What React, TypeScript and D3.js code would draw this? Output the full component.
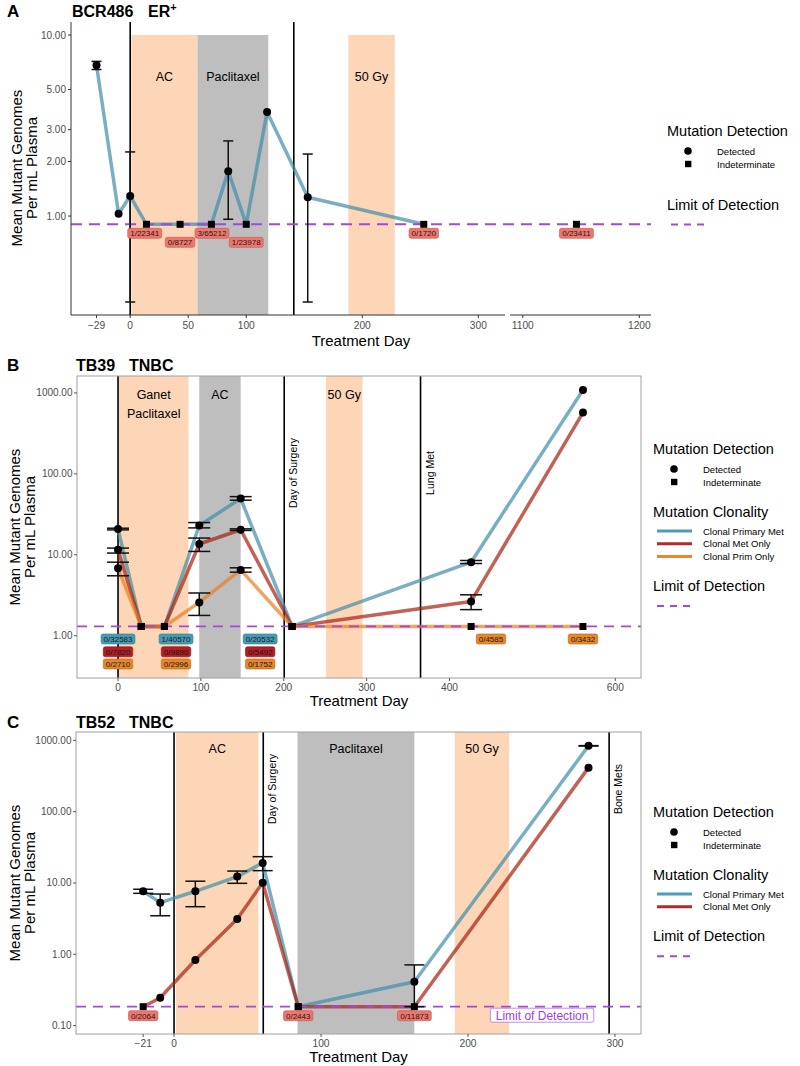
import React from "react";
import * as d3 from "d3";

const FONT = "'Liberation Sans', Arial, Helvetica, sans-serif";

type Pt = { day: number; v: number; lo?: number; hi?: number; det: boolean };
type Phase = { start: number; end: number; label: string[]; kind: "peach" | "grey" };
type Lab = { day: number; row: number; text: string; kind: string };

const PEACH = "#FCD6B6";
const GREY = "#BEBEBE";
const LOD_COLOR = "#A347DF";
const LINE_TEAL = "#3E8DA8";
const LINE_RED = "#A82010";
const LINE_ORANGE = "#E97C1F";
const LEG_TEAL = "#4E9CB5";
const LEG_RED = "#B22A2A";
const LEG_ORANGE = "#E8892B";
const LABEL_FILL: Record<string, [string, string]> = {
  salmon: ["#EE776D", "#C8544B"],
  teal: ["#469BB3", "#2F7F96"],
  red: ["#B01E26", "#8A1218"],
  orange: ["#E8862A", "#B8651A"],
};

// ---------------- Panel A : BCR486 ER+ ----------------
const A_LOD = 0.9;
const A_X_TICKS = [-29, 0, 50, 100, 200, 300];
const A_X_TICKS_LATE = [1100, 1200];
const A_Y_TICKS = [1, 2, 3, 5, 10];
const A_SERIES: Pt[] = [
  { day: -29, v: 6.8, lo: 6.45, hi: 7.15, det: true },
  { day: -10, v: 1.03, det: true },
  { day: 0, v: 1.29, lo: 0.335, hi: 2.26, det: true },
  { day: 14, v: A_LOD, det: false },
  { day: 43, v: A_LOD, det: false },
  { day: 70, v: A_LOD, det: false },
  { day: 84.5, v: 1.77, lo: 0.96, hi: 2.6, det: true },
  { day: 100, v: A_LOD, det: false },
  { day: 118, v: 3.76, det: true },
  { day: 153, v: 1.27, lo: 0.335, hi: 2.2, det: true },
  { day: 253, v: A_LOD, det: false },
];
const A_LATE: Pt[] = [{ day: 1146, v: A_LOD, det: false }];
const A_PHASES: Phase[] = [
  { start: 1, end: 58, label: ["AC"], kind: "peach" },
  { start: 58, end: 119, label: ["Paclitaxel"], kind: "grey" },
  { start: 188, end: 228, label: ["50 Gy"], kind: "peach" },
];
const A_EVENTS = [0, 141];
const A_LABELS: Lab[] = [
  { day: 12.5, row: 0, text: "1/22341", kind: "salmon" },
  { day: 43, row: 1, text: "0/8727", kind: "salmon" },
  { day: 70.5, row: 0, text: "3/65212", kind: "salmon" },
  { day: 100, row: 1, text: "1/23978", kind: "salmon" },
  { day: 253, row: 0, text: "0/1720", kind: "salmon" },
  { day: 1146, row: 0, text: "0/23411", kind: "salmon" },
];

// ---------------- Panel B : TB39 TNBC ----------------
const B_LOD = 1.3;
const B_X_TICKS = [0, 100, 200, 300, 400, 600];
const B_Y_TICKS = [1, 10, 100, 1000];
const B_TEAL: Pt[] = [
  { day: 0, v: 20.8, lo: 20.3, hi: 21.3, det: true },
  { day: 28, v: B_LOD, det: false },
  { day: 56, v: B_LOD, det: false },
  { day: 98, v: 23, lo: 21.5, hi: 25, det: true },
  { day: 148, v: 49.5, lo: 47.3, hi: 52.3, det: true },
  { day: 210, v: B_LOD, det: false },
  { day: 426, v: 8.1, lo: 7.8, hi: 8.5, det: true },
  { day: 561, v: 1090, det: true },
];
const B_RED: Pt[] = [
  { day: 0, v: 11.5, lo: 10.5, hi: 12.1, det: true },
  { day: 28, v: B_LOD, det: false },
  { day: 56, v: B_LOD, det: false },
  { day: 98, v: 13.6, lo: 11, hi: 16.1, det: true },
  { day: 148, v: 20.4, lo: 20, hi: 20.9, det: true },
  { day: 210, v: B_LOD, det: false },
  { day: 426, v: 2.65, lo: 2.1, hi: 3.2, det: true },
  { day: 561, v: 573, det: true },
];
const B_ORANGE: Pt[] = [
  { day: 0, v: 6.8, lo: 5.5, hi: 8.1, det: true },
  { day: 28, v: B_LOD, det: false },
  { day: 56, v: B_LOD, det: false },
  { day: 98, v: 2.58, lo: 1.78, hi: 3.37, det: true },
  { day: 148, v: 6.5, lo: 6.1, hi: 6.9, det: true },
  { day: 210, v: B_LOD, det: false },
  { day: 426, v: B_LOD, det: false },
  { day: 561, v: B_LOD, det: false },
];
const B_PHASES: Phase[] = [
  { start: 1, end: 85, label: ["Ganet", "Paclitaxel"], kind: "peach" },
  { start: 98, end: 148, label: ["AC"], kind: "grey" },
  { start: 251, end: 295, label: ["50 Gy"], kind: "peach" },
];
const B_EVENTS = [
  { day: 0, label: "" },
  { day: 200.5, label: "Day of Surgery" },
  { day: 365, label: "Lung Met" },
];
const B_LABELS: Lab[] = [
  { day: 0, row: 0, text: "0/32583", kind: "teal" },
  { day: 0, row: 1, text: "0/7820", kind: "red" },
  { day: 0, row: 2, text: "0/2710", kind: "orange" },
  { day: 70, row: 0, text: "1/40570", kind: "teal" },
  { day: 70, row: 1, text: "0/9890", kind: "red" },
  { day: 70, row: 2, text: "0/2996", kind: "orange" },
  { day: 171.5, row: 0, text: "0/20532", kind: "teal" },
  { day: 171.5, row: 1, text: "0/5492", kind: "red" },
  { day: 171.5, row: 2, text: "0/1752", kind: "orange" },
  { day: 450, row: 0, text: "0/4585", kind: "orange" },
  { day: 561, row: 0, text: "0/3432", kind: "orange" },
];

// ---------------- Panel C : TB52 TNBC ----------------
const C_LOD = 0.184;
const C_X_TICKS = [-21, 0, 100, 200, 300];
const C_Y_TICKS = [0.1, 1, 10, 100, 1000];
const C_TEAL: Pt[] = [
  { day: -21, v: 7.65, lo: 7.16, hi: 8.17, det: true },
  { day: -9.4, v: 5.3, lo: 3.47, hi: 7.0, det: true },
  { day: 14.5, v: 7.65, lo: 4.65, hi: 10.6, det: true },
  { day: 43, v: 12.3, lo: 9.9, hi: 14.7, det: true },
  { day: 60.3, v: 19.1, lo: 14.9, hi: 23.4, det: true },
  { day: 84.5, v: C_LOD, det: false },
  { day: 163.5, v: 0.413, lo: C_LOD, hi: 0.71, det: true },
  { day: 282, v: 840, lo: 835, hi: 845, det: true },
];
const C_RED: Pt[] = [
  { day: -21, v: C_LOD, det: false },
  { day: -9.4, v: 0.246, det: true },
  { day: 14.5, v: 0.83, det: true },
  { day: 43, v: 3.13, det: true },
  { day: 60.3, v: 10.1, det: true },
  { day: 84.5, v: C_LOD, det: false },
  { day: 163.5, v: C_LOD, det: false },
  { day: 282, v: 415, det: true },
];
const C_PHASES: Phase[] = [
  { start: 1.4, end: 57.4, label: ["AC"], kind: "peach" },
  { start: 84, end: 163.5, label: ["Paclitaxel"], kind: "grey" },
  { start: 191, end: 228, label: ["50 Gy"], kind: "peach" },
];
const C_EVENTS = [
  { day: 0, label: "" },
  { day: 60.7, label: "Day of Surgery" },
  { day: 296, label: "Bone Mets" },
];
const C_LABELS: Lab[] = [
  { day: -21, row: 0, text: "0/2064", kind: "salmon" },
  { day: 84.5, row: 0, text: "0/2443", kind: "salmon" },
  { day: 163.5, row: 0, text: "0/11873", kind: "salmon" },
];
const C_LOD_TEXT_DAY = 250.4;

// ---------------- helpers ----------------
const fmt = d3.format(".2f");
const tickFmt = (d: number) => (d < 0 ? "\u2212" + Math.abs(d) : String(d));

function textW(t: string, fs: number) {
  let w = 0;
  for (const c of t) w += c === "/" ? 0.278 : 0.556;
  return w * fs;
}

function LabelBox({ cx, cy, text, kind }: { cx: number; cy: number; text: string; kind: string }) {
  const fs = 8;
  const w = textW(text, fs) + 5;
  const h = 10;
  const [fill, stroke] = LABEL_FILL[kind];
  return (
    <g>
      <rect x={cx - w / 2} y={cy - h / 2} width={w} height={h} rx={2} fill={fill} stroke={stroke} strokeWidth={0.6} />
      <text x={cx} y={cy + 3} fontSize={fs} textAnchor="middle" fill="#1a1a1a">
        {text}
      </text>
    </g>
  );
}

function Marks({ pts, x, y, cap, r = 4 }: { pts: Pt[]; x: (d: number) => number; y: (v: number) => number; cap: number; r?: number }) {
  return (
    <g>
      {pts.map((p, i) =>
        p.lo !== undefined && p.hi !== undefined ? (
          <g key={"e" + i} stroke="#111" strokeWidth={1.5}>
            <line x1={x(p.day)} x2={x(p.day)} y1={y(p.lo)} y2={y(p.hi)} />
            <line x1={x(p.day) - cap} x2={x(p.day) + cap} y1={y(p.lo)} y2={y(p.lo)} />
            <line x1={x(p.day) - cap} x2={x(p.day) + cap} y1={y(p.hi)} y2={y(p.hi)} />
          </g>
        ) : null
      )}
      {pts.map((p, i) =>
        p.det ? (
          <circle key={"p" + i} cx={x(p.day)} cy={y(p.v)} r={r} fill="#000" />
        ) : (
          <rect key={"p" + i} x={x(p.day) - 3.5} y={y(p.v) - 3.5} width={7} height={7} fill="#000" />
        )
      )}
    </g>
  );
}

function Legend({ x, y, clonality }: { x: number; y: number; clonality: [string, string][] }) {
  const items: JSX.Element[] = [];
  let cy = y;
  items.push(<text key="t1" x={x} y={cy} fontSize={14.5}>Mutation Detection</text>);
  cy += 15;
  items.push(<circle key="c" cx={x + 21} cy={cy} r={3.8} fill="#000" />);
  items.push(<text key="d" x={x + 50} y={cy + 3.5} fontSize={9.5}>Detected</text>);
  cy += 13;
  items.push(<rect key="s" x={x + 18} y={cy - 3.2} width={6.4} height={6.4} fill="#000" />);
  items.push(<text key="i" x={x + 50} y={cy + 3.5} fontSize={9.5}>Indeterminate</text>);
  cy += 11;
  if (clonality.length) {
    cy += 24;
    items.push(<text key="t2" x={x} y={cy} fontSize={14.5}>Mutation Clonality</text>);
    cy += 14;
    clonality.forEach(([lab, col], i) => {
      items.push(<line key={"l" + i} x1={x + 4} x2={x + 39} y1={cy} y2={cy} stroke={col} strokeWidth={3} />);
      items.push(<text key={"lt" + i} x={x + 50} y={cy + 3.5} fontSize={9.5}>{lab}</text>);
      cy += 12.7;
    });
    cy -= 12.7;
  }
  cy += 34.5;
  items.push(<text key="t3" x={x} y={cy} fontSize={14.5}>Limit of Detection</text>);
  cy += 15;
  items.push(
    <line key="lod" x1={x + 4} x2={x + 37} y1={cy} y2={cy} stroke={LOD_COLOR} strokeWidth={2} strokeDasharray="7 6" />
  );
  return <g>{items}</g>;
}

function YTitle({ cx, cy }: { cx: number; cy: number }) {
  return (
    <g fontSize={15} textAnchor="middle">
      <text transform={`translate(${cx},${cy}) rotate(-90)`}>Mean Mutant Genomes</text>
      <text transform={`translate(${cx + 15},${cy}) rotate(-90)`}>Per mL Plasma</text>
    </g>
  );
}

// ---------------- Panel A ----------------
function PanelA() {
  const x1 = d3.scaleLinear().domain([-51, 323]).range([71, 505]);
  const x2 = d3.scaleLinear().domain([1089, 1210]).range([510, 651]);
  const x = (d: number) => (d > 700 ? x2(d) : x1(d));
  const y = d3.scaleLog().domain([0.284, 11.8]).range([315, 22]);
  const top = 22, bottom = 315, left = 71;
  const line = d3.line<Pt>().x((d) => x(d.day)).y((d) => y(d.v));
  const rowOff = [9, 18];
  return (
    <g>
      <text x={7} y={17} fontSize={17} fontWeight="bold">A</text>
      <text x={72} y={17} fontSize={16} fontWeight="bold">BCR486</text>
      <text x={148} y={17} fontSize={16} fontWeight="bold">
        ER<tspan fontSize={11} dy={-6}>+</tspan>
      </text>
      {A_PHASES.map((p, i) => (
        <g key={i}>
          <rect x={x1(p.start)} y={y(10)} width={x1(p.end) - x1(p.start)} height={bottom - y(10)} fill={p.kind === "peach" ? PEACH : GREY} />
          <text x={(x1(p.start) + x1(p.end)) / 2} y={81} fontSize={12.5} textAnchor="middle">{p.label[0]}</text>
        </g>
      ))}
      {A_EVENTS.map((d, i) => (
        <line key={i} x1={x1(d)} x2={x1(d)} y1={top} y2={bottom} stroke="#000" strokeWidth={1.6} />
      ))}
      <path d={line(A_SERIES) || ""} fill="none" stroke={LINE_TEAL} strokeOpacity={0.7} strokeWidth={3.5} strokeLinejoin="round" />
      <line x1={left} x2={651} y1={y(A_LOD)} y2={y(A_LOD)} stroke={LOD_COLOR} strokeWidth={2} strokeDasharray="11 7" />
      <Marks pts={A_SERIES} x={x} y={y} cap={5} />
      <Marks pts={A_LATE} x={x} y={y} cap={5} />
      {A_LABELS.map((l, i) => (
        <LabelBox key={i} cx={x(l.day)} cy={y(A_LOD) + rowOff[l.row]} text={l.text} kind={l.kind} />
      ))}
      {/* axes */}
      <line x1={left} x2={left} y1={top} y2={bottom} stroke="#333" strokeWidth={1} />
      <line x1={left} x2={505} y1={bottom} y2={bottom} stroke="#333" strokeWidth={1} />
      <line x1={510} x2={651} y1={bottom} y2={bottom} stroke="#333" strokeWidth={1} />
      {A_Y_TICKS.map((t) => (
        <g key={t}>
          <line x1={left - 3} x2={left} y1={y(t)} y2={y(t)} stroke="#333" />
          <text x={left - 5} y={y(t) + 3.5} fontSize={10} textAnchor="end" fill="#4D4D4D">{fmt(t)}</text>
        </g>
      ))}
      {A_X_TICKS.map((t) => (
        <g key={t}>
          <line x1={x1(t)} x2={x1(t)} y1={bottom} y2={bottom + 3} stroke="#333" />
          <text x={x1(t)} y={bottom + 14} fontSize={10.2} textAnchor="middle" fill="#4D4D4D">{tickFmt(t)}</text>
        </g>
      ))}
      {A_X_TICKS_LATE.map((t) => (
        <g key={t}>
          <line x1={x2(t)} x2={x2(t)} y1={bottom} y2={bottom + 3} stroke="#333" />
          <text x={x2(t)} y={bottom + 14} fontSize={10.2} textAnchor="middle" fill="#4D4D4D">{tickFmt(t)}</text>
        </g>
      ))}
      <text x={361} y={346} fontSize={15} textAnchor="middle">Treatment Day</text>
      <YTitle cx={22} cy={168} />
      <Legend x={667} y={136} clonality={[]} />
    </g>
  );
}

// ---------------- generic framed panel (B, C) ----------------
function FramedPanel(props: {
  tag: string; title: string; titleY: number;
  x: d3.ScaleLinear<number, number>; y: d3.ScaleLogarithmic<number, number>;
  box: { l: number; t: number; r: number; b: number };
  phases: Phase[]; phaseTextY: number;
  events: { day: number; label: string }[]; eventTextY: number;
  series: [Pt[], string][]; lod: number; labels: Lab[]; rowOff: number[];
  xTicks: number[]; yTicks: number[]; cap: number;
  legendY: number; clonality: [string, string][];
  extra?: JSX.Element;
}) {
  const { x, y, box } = props;
  const line = d3.line<Pt>().x((d) => x(d.day)).y((d) => y(d.v));
  return (
    <g>
      <text x={7} y={props.titleY} fontSize={17} fontWeight="bold">{props.tag}</text>
      <text x={76} y={props.titleY} fontSize={16} fontWeight="bold">{props.title}</text>
      <text x={129} y={props.titleY} fontSize={16} fontWeight="bold">TNBC</text>
      {props.phases.map((p, i) => (
        <g key={i}>
          <rect x={x(p.start)} y={box.t} width={x(p.end) - x(p.start)} height={box.b - box.t} fill={p.kind === "peach" ? PEACH : GREY} />
          {p.label.map((s, j) => (
            <text key={j} x={(x(p.start) + x(p.end)) / 2} y={props.phaseTextY + j * 19} fontSize={12.5} textAnchor="middle">{s}</text>
          ))}
        </g>
      ))}
      {props.events.map((e, i) => (
        <g key={i}>
          <line x1={x(e.day)} x2={x(e.day)} y1={box.t} y2={box.b} stroke="#000" strokeWidth={1.6} />
          {e.label && (
            <text transform={`translate(${x(e.day) + 13},${props.eventTextY}) rotate(-90)`} fontSize={10.5} textAnchor="middle">{e.label}</text>
          )}
        </g>
      ))}
      {props.series.map(([pts, col], i) => (
        <path key={i} d={line(pts) || ""} fill="none" stroke={col} strokeOpacity={0.7} strokeWidth={3.5} strokeLinejoin="round" />
      ))}
      <line x1={box.l} x2={box.r} y1={y(props.lod)} y2={y(props.lod)} stroke={LOD_COLOR} strokeWidth={1.8} strokeDasharray="10 7" />
      {props.series.map(([pts], i) => (
        <Marks key={i} pts={pts} x={x} y={y} cap={props.cap} />
      ))}
      {props.labels.map((l, i) => (
        <LabelBox key={i} cx={x(l.day)} cy={y(props.lod) + props.rowOff[l.row]} text={l.text} kind={l.kind} />
      ))}
      {props.extra}
      <rect x={box.l} y={box.t} width={box.r - box.l} height={box.b - box.t} fill="none" stroke="#A0A0A0" strokeWidth={1} />
      {props.yTicks.map((t) => (
        <g key={t}>
          <line x1={box.l - 3} x2={box.l} y1={y(t)} y2={y(t)} stroke="#555" />
          <text x={box.l - 4.5} y={y(t) + 3.5} fontSize={10} textAnchor="end" fill="#4D4D4D">{fmt(t)}</text>
        </g>
      ))}
      {props.xTicks.map((t) => (
        <g key={t}>
          <line x1={x(t)} x2={x(t)} y1={box.b} y2={box.b + 3} stroke="#555" />
          <text x={x(t)} y={box.b + 12.5} fontSize={10.2} textAnchor="middle" fill="#4D4D4D">{tickFmt(t)}</text>
        </g>
      ))}
      <text x={(box.l + box.r) / 2} y={box.b + 27.5} fontSize={15} textAnchor="middle">Treatment Day</text>
      <YTitle cx={20} cy={(box.t + box.b) / 2} />
      <Legend x={653} y={props.legendY} clonality={props.clonality} />
    </g>
  );
}

function PanelB() {
  const box = { l: 77, t: 376, r: 641, b: 678 };
  const x = d3.scaleLinear().domain([-49.5, 631]).range([box.l, box.r]);
  const y = d3.scaleLog().domain([0.3, 1620]).range([box.b, box.t]);
  return (
    <FramedPanel
      tag="B" title="TB39" titleY={371}
      x={x} y={y} box={box}
      phases={B_PHASES} phaseTextY={398.5}
      events={B_EVENTS} eventTextY={473}
      series={[[B_TEAL, LINE_TEAL], [B_RED, LINE_RED], [B_ORANGE, LINE_ORANGE]]}
      lod={B_LOD} labels={B_LABELS} rowOff={[12.5, 25.3, 37.5]}
      xTicks={B_X_TICKS} yTicks={B_Y_TICKS} cap={11}
      legendY={454}
      clonality={[["Clonal Primary Met", LEG_TEAL], ["Clonal Met Only", LEG_RED], ["Clonal Prim Only", LEG_ORANGE]]}
    />
  );
}

function PanelC() {
  const box = { l: 76, t: 732, r: 641, b: 1034 };
  const x = d3.scaleLinear().domain([-66.7, 317.7]).range([box.l, box.r]);
  const y = d3.scaleLog().domain([0.0762, 1312]).range([box.b, box.t]);
  const lodText = "Limit of Detection";
  const tw = 95.4 + 8;
  const cx = x(C_LOD_TEXT_DAY);
  const cy = y(C_LOD) + 8.5;
  const extra = (
    <g>
      <rect x={cx - tw / 2} y={cy - 7} width={tw} height={14} rx={2} fill="#fff" stroke="#B36BF0" strokeWidth={0.8} />
      <text x={cx} y={cy + 4.3} fontSize={12} textAnchor="middle" fill="#A040E0">{lodText}</text>
    </g>
  );
  return (
    <FramedPanel
      tag="C" title="TB52" titleY={727.5}
      x={x} y={y} box={box}
      phases={C_PHASES} phaseTextY={752.5}
      events={C_EVENTS} eventTextY={789}
      series={[[C_TEAL, LINE_TEAL], [C_RED, LINE_RED]]}
      lod={C_LOD} labels={C_LABELS} rowOff={[9]}
      xTicks={C_X_TICKS} yTicks={C_Y_TICKS} cap={10}
      legendY={817}
      clonality={[["Clonal Primary Met", LEG_TEAL], ["Clonal Met Only", LEG_RED]]}
      extra={extra}
    />
  );
}

export default function App() {
  return (
    <svg
      width={800}
      height={1066}
      viewBox="0 0 800 1066"
      fontFamily={FONT}
      style={{ position: "absolute", left: 0, top: 0, display: "block" }}
    >
      <rect width={800} height={1066} fill="#fff" />
      <PanelA />
      <PanelB />
      <PanelC />
    </svg>
  );
}
